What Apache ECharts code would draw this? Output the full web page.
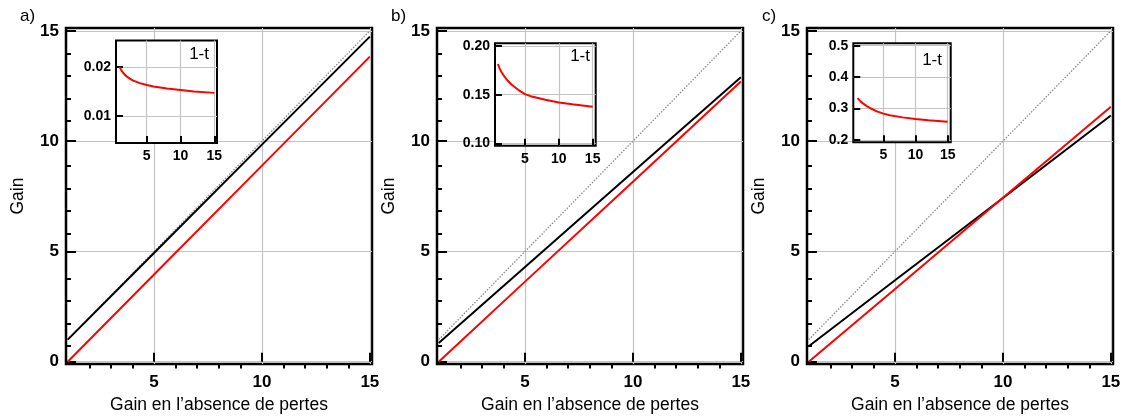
<!DOCTYPE html>
<html><head><meta charset="utf-8">
<script src="https://cdn.jsdelivr.net/npm/echarts@6/dist/echarts.min.js"></script>
<style>html,body{margin:0;padding:0;background:#fff}#c{width:1125px;height:419px}</style>
</head><body><div id="c"></div>
<script>
// ---- data ----
const panelLabels = ['a)', 'b)', 'c)'];
const xTitle = 'Gain en l’absence de pertes';
const yTitle = 'Gain';
const insetTitle = '1-t';

const mainXTicks = [5, 10, 15];
const mainXMinorTicks = [2, 3, 4, 6, 7, 8, 9, 11, 12, 13, 14];
const mainYTicks = [0, 5, 10, 15];
const mainYMinorTicks = [1, 2, 3, 4, 6, 7, 8, 9, 11, 12, 13, 14];

const lineX = [1, 5, 10, 15];
const diagonalY = [1, 5, 10, 15];
const blackA = [1.00, 4.93, 9.84, 14.74];
const redA = [0, 3.95, 8.89, 13.83];
const blackB = [0.85, 4.29, 8.60, 12.90];
const redB = [0, 3.63, 8.16, 12.70];
const blackC = [0.70, 3.69, 7.42, 11.16];
const redC = [0, 3.30, 7.43, 11.56];

const insetX = [1, 1.25, 1.5, 2, 2.5, 3, 4, 5, 6, 8, 10, 12, 15];
const insetA = [0.0200, 0.0193, 0.0188, 0.0181, 0.0176, 0.0172, 0.0167, 0.0163, 0.0160, 0.0156, 0.0153, 0.0150, 0.0147];
const insetB = [0.1815, 0.1770, 0.1735, 0.1682, 0.1640, 0.1605, 0.1550, 0.1506, 0.1480, 0.1447, 0.1420, 0.1401, 0.1376];
const insetC = [0.333, 0.327, 0.322, 0.314, 0.307, 0.301, 0.291, 0.284, 0.279, 0.272, 0.267, 0.263, 0.258];

const insetXTicks = [5, 10, 15];
const insetYTicksA = [0.01, 0.02];
const insetYTicksB = [0.10, 0.15, 0.20];
const insetYTicksC = [0.2, 0.3, 0.4, 0.5];

// ---- layout ----
const FONT = '"Liberation Sans", Arial, Helvetica, sans-serif';
const mainLefts = [66, 437, 807];
const mainW = 306, mainTop = 28, mainH = 343;
const mainXRange = [0.92, 15.1];
const mainYRange = [-0.11, 15.13];

const insets = [
  {left: 116, top: 40.5, width: 101, height: 102.5, x: [0.46, 15.4], y: [0.00446, 0.0254], yt: insetYTicksA, dec: 2, data: insetA, tx: 209, ty: 46},
  {left: 495, top: 43.3, width: 100.7, height: 102.4, x: [0.57, 15.45], y: [0.0975, 0.2028], yt: insetYTicksB, dec: 2, data: insetB, tx: 590, ty: 48},
  {left: 853.3, top: 43.3, width: 97.4, height: 99, x: [0.34, 15.47], y: [0.1927, 0.5076], yt: insetYTicksC, dec: 1, data: insetC, tx: 942, ty: 52}
];
const mains = [[blackA, redA], [blackB, redB], [blackC, redC]];

const grid = [], xAxis = [], yAxis = [], series = [], graphic = [];
const tickStyle = {color: '#000', width: 2};
const gridLine = {show: true, lineStyle: {color: '#c4c4c4', width: 1.2}};

// grids 0-2: main, 3-5: insets, 6-8: minor-tick overlays of main
for (let p = 0; p < 3; p++) {
  grid.push({left: mainLefts[p], top: mainTop, width: mainW, height: mainH, show: true,
    borderColor: '#000', borderWidth: 2.5, backgroundColor: 'transparent', z: 0});
}
for (let p = 0; p < 3; p++) {
  const s = insets[p];
  grid.push({left: s.left, top: s.top, width: s.width, height: s.height, show: true,
    borderColor: '#000', borderWidth: 2, backgroundColor: '#fff', z: 3});
}
for (let p = 0; p < 3; p++) {
  grid.push({left: mainLefts[p], top: mainTop, width: mainW, height: mainH, show: false, z: 1});
}
// main axes (0-2)
for (let p = 0; p < 3; p++) {
  xAxis.push({gridIndex: p, type: 'value', position: 'bottom', min: mainXRange[0], max: mainXRange[1], z: 1,
    axisLine: {show: false},
    axisTick: {show: true, inside: true, length: 9, lineStyle: tickStyle, customValues: mainXTicks},
    axisLabel: {customValues: mainXTicks, margin: 10, fontFamily: FONT, fontWeight: 'bold', fontSize: 17, color: '#000'},
    splitLine: gridLine,
    name: xTitle, nameLocation: 'middle', nameGap: 25,
    nameTextStyle: {fontFamily: FONT, fontSize: 17.5, color: '#000', verticalAlign: 'top'}});
  yAxis.push({gridIndex: p, type: 'value', position: 'left', min: mainYRange[0], max: mainYRange[1], z: 1,
    axisLine: {show: false},
    axisTick: {show: true, inside: true, length: 10, lineStyle: tickStyle, customValues: mainYTicks},
    axisLabel: {customValues: mainYTicks, margin: 7, fontFamily: FONT, fontWeight: 'bold', fontSize: 17, color: '#000'},
    splitLine: gridLine,
    name: yTitle, nameLocation: 'middle', nameGap: 39,
    nameTextStyle: {fontFamily: FONT, fontSize: 17.5, color: '#000'}});
}
// inset axes (3-5)
for (let p = 0; p < 3; p++) {
  const s = insets[p];
  xAxis.push({gridIndex: 3 + p, type: 'value', position: 'bottom', min: s.x[0], max: s.x[1], z: 4,
    axisLine: {show: false},
    axisTick: {show: true, inside: true, length: 7, lineStyle: tickStyle, customValues: insetXTicks},
    axisLabel: {customValues: insetXTicks, margin: 6, fontFamily: FONT, fontWeight: 'bold', fontSize: 14, color: '#000'},
    splitLine: gridLine});
  yAxis.push({gridIndex: 3 + p, type: 'value', position: 'left', min: s.y[0], max: s.y[1], z: 4,
    axisLine: {show: false},
    axisTick: {show: true, inside: true, length: 7, lineStyle: tickStyle, customValues: s.yt},
    axisLabel: {customValues: s.yt, margin: 5, fontFamily: FONT, fontWeight: 'bold', fontSize: 14, color: '#000',
      formatter: (v) => Number(v).toFixed(s.dec)},
    splitLine: gridLine});
}
// minor tick axes (6-8)
for (let p = 0; p < 3; p++) {
  xAxis.push({gridIndex: 6 + p, type: 'value', position: 'bottom', min: mainXRange[0], max: mainXRange[1], z: 1,
    axisLine: {show: false},
    axisTick: {show: true, inside: true, length: 5, lineStyle: tickStyle, customValues: mainXMinorTicks},
    axisLabel: {show: false}, splitLine: {show: false}});
  yAxis.push({gridIndex: 6 + p, type: 'value', position: 'left', min: mainYRange[0], max: mainYRange[1], z: 1,
    axisLine: {show: false},
    axisTick: {show: true, inside: true, length: 5, lineStyle: tickStyle, customValues: mainYMinorTicks},
    axisLabel: {show: false}, splitLine: {show: false}});
}
// series
const pairs = (xs, ys) => xs.map((x, i) => [x, ys[i]]);
for (let p = 0; p < 3; p++) {
  series.push({type: 'line', xAxisIndex: p, yAxisIndex: p, data: pairs(lineX, diagonalY),
    showSymbol: false, silent: true, z: 2, lineStyle: {color: '#8a8a8a', width: 1.3, type: [1.5, 1.5]}});
  series.push({type: 'line', xAxisIndex: p, yAxisIndex: p, data: pairs(lineX, mains[p][0]),
    showSymbol: false, silent: true, z: 2, lineStyle: {color: '#000', width: 2}});
  series.push({type: 'line', xAxisIndex: p, yAxisIndex: p, data: pairs(lineX, mains[p][1]),
    showSymbol: false, silent: true, z: 2, lineStyle: {color: '#ff0000', width: 2}});
  series.push({type: 'line', xAxisIndex: 3 + p, yAxisIndex: 3 + p, data: pairs(insetX, insets[p].data),
    showSymbol: false, silent: true, z: 5, lineStyle: {color: '#ff0000', width: 2}});
  graphic.push({type: 'text', left: [20, 391, 762][p], top: 8, z: 10,
    style: {text: panelLabels[p], font: '17px ' + FONT, fill: '#000'}});
  graphic.push({type: 'text', x: insets[p].tx, y: insets[p].ty, z: 10,
    style: {text: insetTitle, font: '17px ' + FONT, fill: '#000', textAlign: 'right', textVerticalAlign: 'top'}});
}

const chart = echarts.init(document.getElementById('c'), null, {renderer: 'canvas'});
chart.setOption({animation: false, backgroundColor: '#fff', grid, xAxis, yAxis, series, graphic});
</script>
</body></html>
